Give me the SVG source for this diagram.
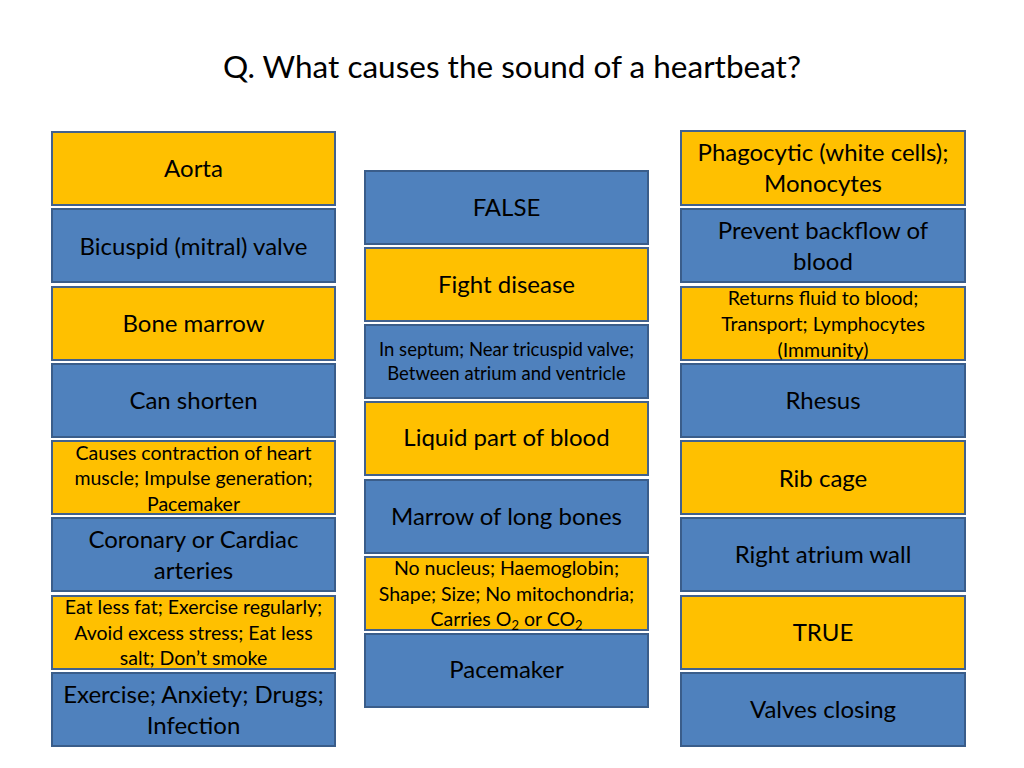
<svg xmlns="http://www.w3.org/2000/svg" width="1024" height="768" viewBox="0 0 1024 768">
<style>
.y{fill:#FFC000;stroke:#41618E;stroke-width:2}
.b{fill:#4F81BD;stroke:#3A5D8A;stroke-width:2}
text{font-family:Lato,"Open Sans","Liberation Sans",sans-serif;fill:#000;text-anchor:middle}
.L{font-size:24px}
.S{font-size:19.5px}
.T{font-size:18.5px}
.title{font-size:31.5px}
</style>
<rect width="1024" height="768" fill="#fff"/>
<text class="title" x="512" y="78">Q. What causes the sound of a heartbeat?</text>
<g id="connectors"></g>
<!-- Left column -->
<g id="n-aorta"><rect class="y" x="52" y="132" width="283" height="73"/><text class="L" x="193.5" y="177">Aorta</text></g>
<g id="n-bicuspid"><rect class="b" x="52" y="209" width="283" height="73"/><text class="L" x="193.5" y="255">Bicuspid (mitral) valve</text></g>
<g id="n-bonemarrow"><rect class="y" x="52" y="287" width="283" height="73"/><text class="L" x="193.5" y="332">Bone marrow</text></g>
<g id="n-canshorten"><rect class="b" x="52" y="364" width="283" height="73"/><text class="L" x="193.5" y="409">Can shorten</text></g>
<g id="n-causes"><rect class="y" x="52" y="441" width="283" height="73"/><text class="S" x="193.5" y="460">Causes contraction of heart</text><text class="S" x="193.5" y="485">muscle; Impulse generation;</text><text class="S" x="193.5" y="511">Pacemaker</text></g>
<g id="n-coronary"><rect class="b" x="52" y="518" width="283" height="73"/><text class="L" x="193.5" y="548">Coronary or Cardiac</text><text class="L" x="193.5" y="579">arteries</text></g>
<g id="n-eatless"><rect class="y" x="52" y="596" width="283" height="73"/><text class="S" x="193.5" y="614">Eat less fat; Exercise regularly;</text><text class="S" x="193.5" y="640">Avoid excess stress; Eat less</text><text class="S" x="193.5" y="665">salt; Don’t smoke</text></g>
<g id="n-exercise"><rect class="b" x="52" y="673" width="283" height="73"/><text class="L" x="193.5" y="703">Exercise; Anxiety; Drugs;</text><text class="L" x="193.5" y="734">Infection</text></g>
<!-- Middle column -->
<g id="n-false"><rect class="b" x="365" y="171" width="283" height="73"/><text class="L" x="506.5" y="216">FALSE</text></g>
<g id="n-fight"><rect class="y" x="365" y="248" width="283" height="73"/><text class="L" x="506.5" y="293">Fight disease</text></g>
<g id="n-septum"><rect class="b" x="365" y="325" width="283" height="73"/><text class="T" x="506.5" y="355.5">In septum; Near tricuspid valve;</text><text class="T" x="506.5" y="379.5">Between atrium and ventricle</text></g>
<g id="n-liquid"><rect class="y" x="365" y="402" width="283" height="73"/><text class="L" x="506.5" y="446">Liquid part of blood</text></g>
<g id="n-marrow"><rect class="b" x="365" y="480" width="283" height="73"/><text class="L" x="506.5" y="525">Marrow of long bones</text></g>
<g id="n-nonucleus"><rect class="y" x="365" y="557" width="283" height="73"/><text class="S" x="506.5" y="575">No nucleus; Haemoglobin;</text><text class="S" x="506.5" y="601">Shape; Size; No mitochondria;</text><text class="S" x="506.5" y="626">Carries O<tspan font-size="13" dy="4">2</tspan><tspan dy="-4"> or CO</tspan><tspan font-size="13" dy="4">2</tspan></text></g>
<g id="n-pacemaker"><rect class="b" x="365" y="634" width="283" height="73"/><text class="L" x="506.5" y="678">Pacemaker</text></g>
<!-- Right column -->
<g id="n-phago"><rect class="y" x="681" y="131" width="284" height="74"/><text class="L" x="823" y="161">Phagocytic (white cells);</text><text class="L" x="823" y="192">Monocytes</text></g>
<g id="n-prevent"><rect class="b" x="681" y="209" width="284" height="73"/><text class="L" x="823" y="239">Prevent backflow of</text><text class="L" x="823" y="270">blood</text></g>
<g id="n-returns"><rect class="y" x="681" y="287" width="284" height="73"/><text class="S" x="823" y="305">Returns fluid to blood;</text><text class="S" x="823" y="331">Transport; Lymphocytes</text><text class="S" x="823" y="357">(Immunity)</text></g>
<g id="n-rhesus"><rect class="b" x="681" y="364" width="284" height="73"/><text class="L" x="823" y="409">Rhesus</text></g>
<g id="n-ribcage"><rect class="y" x="681" y="441" width="284" height="73"/><text class="L" x="823" y="487">Rib cage</text></g>
<g id="n-rightatrium"><rect class="b" x="681" y="518" width="284" height="73"/><text class="L" x="823" y="563">Right atrium wall</text></g>
<g id="n-true"><rect class="y" x="681" y="596" width="284" height="73"/><text class="L" x="823" y="641">TRUE</text></g>
<g id="n-valves"><rect class="b" x="681" y="673" width="284" height="73"/><text class="L" x="823" y="718">Valves closing</text></g>
</svg>
